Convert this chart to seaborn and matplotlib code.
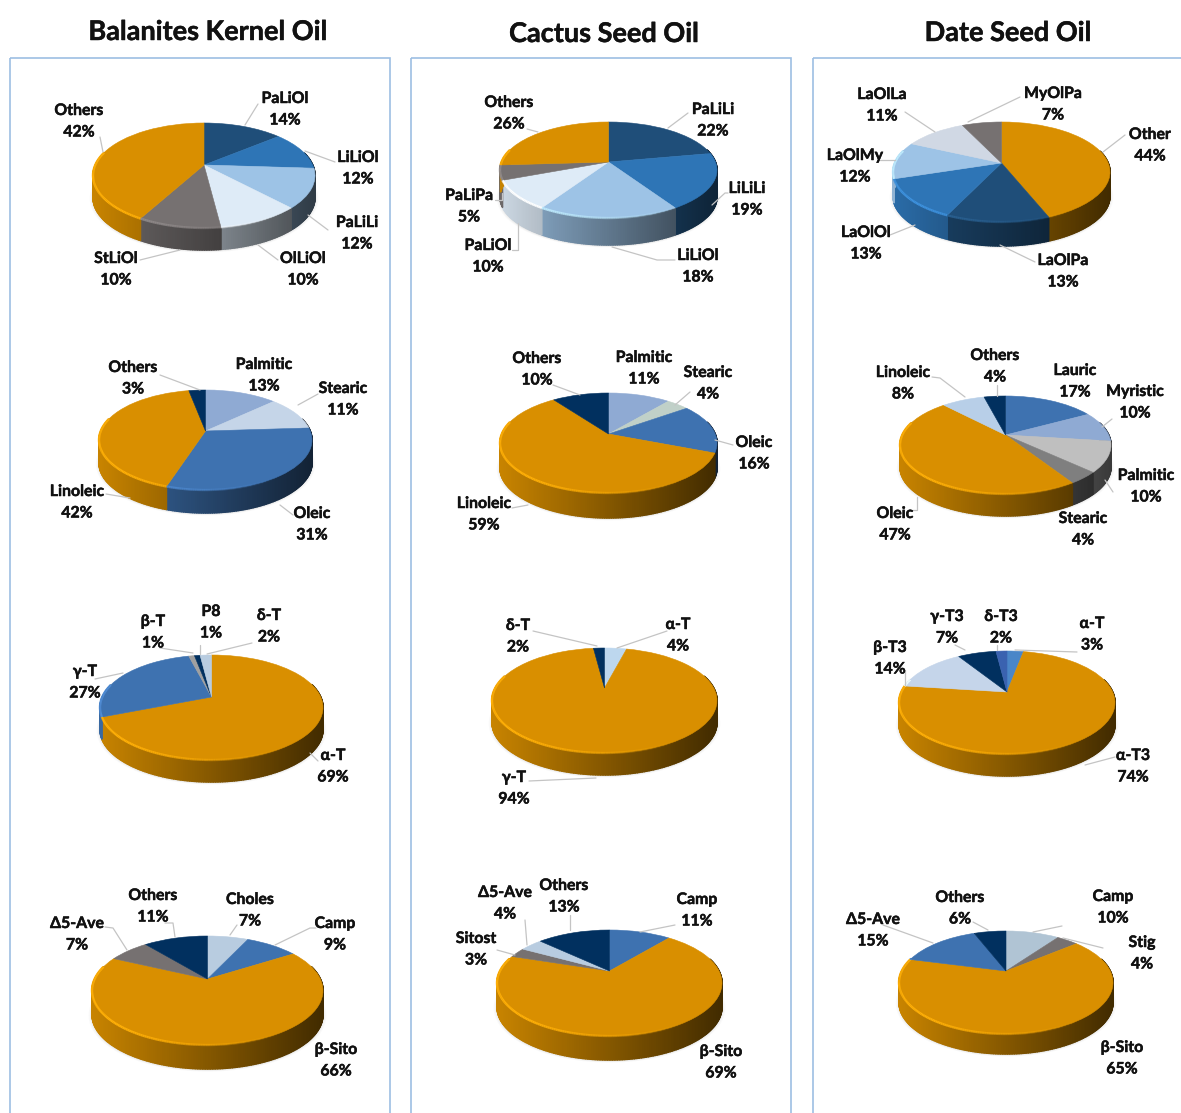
import numpy as np
import matplotlib
matplotlib.use("Agg")
import matplotlib.pyplot as plt
import matplotlib.patheffects as pe
import seaborn as sns
from matplotlib.collections import PolyCollection, LineCollection
from matplotlib.colors import to_rgb
from matplotlib.patches import Rectangle
from matplotlib.transforms import Transform

sns.set_theme(style="white")
plt.rcParams["font.family"] = ["Lato", "Open Sans", "DejaVu Sans"]

W, H = 1181, 1113
TITLES = ["Balanites Kernel Oil", "Cactus Seed Oil", "Date Seed Oil"]

# ---------- data (clockwise from 12 o'clock) ----------
b1_names = ["PaLiOl", "LiLiOl", "PaLiLi", "OlLiOl", "StLiOl", "Others"]
b1_vals = [14, 12, 12, 10, 10, 42]
b2_names = ["Palmitic", "Stearic", "Oleic", "Linoleic", "Others"]
b2_vals = [13, 11, 31, 42, 3]
b3_names = ["α-T", "γ-T", "β-T", "P8", "δ-T"]
b3_vals = [69, 27, 1, 1, 2]
b4_names = ["Choles", "Camp", "β-Sito", "Δ5-Ave", "Others"]
b4_vals = [7, 9, 66, 7, 11]

c1_names = ["PaLiLi", "LiLiLi", "LiLiOl", "PaLiOl", "PaLiPa", "Others"]
c1_vals = [22, 19, 18, 10, 5, 26]
c2_names = ["Palmitic", "Stearic", "Oleic", "Linoleic", "Others"]
c2_vals = [11, 4, 16, 59, 10]
c3_names = ["α-T", "γ-T", "δ-T"]
c3_vals = [4, 94, 2]
c4_names = ["Camp", "β-Sito", "Sitost", "Δ5-Ave", "Others"]
c4_vals = [11, 69, 3, 4, 13]

d1_names = ["Other", "LaOlPa", "LaOlOl", "LaOlMy", "LaOlLa", "MyOlPa"]
d1_vals = [44, 13, 13, 12, 11, 7]
d2_names = ["Lauric", "Myristic", "Palmitic", "Stearic", "Oleic", "Linoleic", "Others"]
d2_vals = [17, 10, 10, 4, 47, 8, 4]
d3_names = ["α-T", "α-T3", "β-T3", "γ-T3", "δ-T3"]
d3_vals = [3, 74, 14, 7, 2]
d4_names = ["Camp", "Stig", "β-Sito", "Δ5-Ave", "Others"]
d4_vals = [10, 4, 65, 15, 6]

# ---------- colours ----------
GOLD, NAVY, GREY = "#d98f00", "#01305f", "#767171"
MID, DEEP, STRONG = "#3e72b0", "#1f4e79", "#2e75b6"
SKY, PALE, MIST = "#9dc3e6", "#deebf7", "#b8cce0"
b1_cols = [DEEP, STRONG, SKY, PALE, GREY, GOLD]
b2_cols = ["#8faad3", "#c5d5e8", MID, GOLD, NAVY]
b3_cols = [GOLD, MID, "#a0a0a0", "#01305f", MIST]
b4_cols = [MIST, MID, GOLD, GREY, NAVY]
c1_cols = [DEEP, STRONG, SKY, PALE, GREY, GOLD]
c2_cols = ["#8faad3", "#c0d0c8", MID, GOLD, NAVY]
c3_cols = ["#bdd7ee", GOLD, NAVY]
c4_cols = [MID, GOLD, GREY, MIST, NAVY]
d1_cols = [GOLD, DEEP, STRONG, SKY, "#d0d8e4", GREY]
d2_cols = [MID, "#8faad3", "#bfbfbf", "#7f7f7f", GOLD, "#b8cfe8", NAVY]
d3_cols = ["#4a86c8", GOLD, "#c5d5ea", NAVY, "#3a62b0"]
d4_cols = ["#b0c4d4", GREY, GOLD, MID, NAVY]

# ---------- layout in pixels ----------
FRAMES = [(10, 390), (411, 791), (813, 1195)]
ROWS = [(58, 325), (325, 590), (590, 860), (860, 1113)]
TITLE_POS = [(208, 32), (604, 34), (1008, 33)]
# left, right, top, apex y, front rim y, bottom of the side wall
b1_geo = (93, 315, 123, 165, 228, 250)
b2_geo = (99, 312, 390, 431, 490, 513)
b3_geo = (100, 323, 655, 697, 760, 782)
b4_geo = (92, 323, 936, 979, 1045, 1069)
c1_geo = (500, 717, 122, 162, 218, 245)
c2_geo = (500, 717, 393, 434, 493, 518)
c3_geo = (492, 717, 648, 688, 753, 775)
c4_geo = (497, 722, 930, 971, 1036, 1060)
d1_geo = (893, 1110, 122, 163, 222, 246)
d2_geo = (900, 1111, 396, 435, 494, 516)
d3_geo = (899, 1115, 651, 692, 754, 776)
d4_geo = (899, 1113, 931, 971, 1034, 1054)

b1_lab = [(285, 108), (358, 167), (357, 232), (303, 268), (116, 268), (79, 120)]
b2_lab = [(264, 374), (343, 398), (312, 523), (77, 501), (133, 377)]
b3_lab = [(333, 765), (85, 681), (153, 631), (211, 621), (269, 625)]
b4_lab = [(250, 909), (335, 933), (336, 1059), (77, 933), (153, 905)]
c1_lab = [(713, 119), (747, 198), (698, 265), (488, 255), (469, 205), (509, 112)]
c2_lab = [(644, 367), (708, 382), (754, 452), (484, 513), (537, 368)]
c3_lab = [(678, 634), (514, 787), (518, 635)]
c4_lab = [(697, 909), (721, 1061), (476, 948), (505, 902), (564, 895)]
d1_lab = [(1150, 144), (1063, 270), (866, 242), (855, 165), (882, 104), (1053, 103)]
d2_lab = [(1075, 380), (1135, 401), (1146, 485), (1083, 528), (895, 523), (903, 382), (995, 365)]
d3_lab = [(1092, 633), (1133, 765), (890, 657), (947, 626), (1001, 626)]
d4_lab = [(1113, 906), (1142, 952), (1122, 1057), (873, 929), (960, 907)]

b1_lead = [[(245, 125), (258, 104)], [(305, 151), (335, 162)], [(308, 215), (328, 230)],
           [(258, 245), (278, 260)], [(180, 250), (140, 260)], [(103, 152), (100, 137)]]
b2_lead = [[], [(298, 405), (318, 394)], [(280, 505), (293, 515)],
           [(130, 498), (106, 494)], [(200, 390), (160, 375)]]
b3_lead = [[(310, 753), (318, 761)], [(123, 673), (95, 679)], [(193, 653), (160, 648)],
           [(200, 654), (200, 645)], [(207, 654), (252, 643)]]
b4_lead = [[(230, 935), (237, 925)], [(275, 945), (310, 928), (316, 928)], [],
           [(127, 950), (113, 928), (105, 927)], [(175, 937), (173, 923), (165, 923)]]
c1_lead = [[(668, 128), (688, 113)], [(712, 205), (725, 193), (728, 193)],
           [(612, 247), (657, 260), (675, 260)], [(518, 223), (518, 250), (512, 250)],
           [(502, 193), (502, 200), (495, 200)], [(538, 132), (527, 129)]]
c2_lead = [[], [(675, 405), (690, 392)], [(715, 440), (733, 445)],
           [(528, 505), (512, 508)], [(580, 395), (553, 385)]]
c3_lead = [[(617, 648), (667, 631)], [(596, 778), (529, 781)], [(597, 646), (533, 631)]]
c4_lead = [[(640, 932), (675, 925)], [], [(515, 955), (497, 950)],
           [(527, 945), (525, 920)], [(570, 930), (570, 915)]]
d1_lead = [[(1103, 152), (1125, 135)], [(1000, 245), (1035, 262)], [(915, 225), (890, 235)],
           [(895, 160), (880, 160)], [(935, 132), (905, 112)], [(968, 122), (1020, 97)]]
d2_lead = [[], [(1102, 427), (1112, 419)], [(1105, 480), (1113, 492)], [],
           [(917, 497), (917, 510), (910, 510)], [(965, 397), (940, 378), (932, 377)],
           [(997, 396), (997, 385)]]
d3_lead = [[(1015, 650), (1077, 652)], [(1085, 765), (1115, 757)], [(905, 685), (905, 670)],
           [(965, 650), (955, 645)], [(997, 650), (997, 645)]]
d4_lead = [[(1033, 932), (1062, 926)], [(1063, 938), (1103, 948)], [],
           [(933, 943), (883, 925)], [(988, 930), (973, 922)]]

PANELS = [
    [(b1_names, b1_vals, b1_cols, b1_geo, b1_lab, b1_lead),
     (b2_names, b2_vals, b2_cols, b2_geo, b2_lab, b2_lead),
     (b3_names, b3_vals, b3_cols, b3_geo, b3_lab, b3_lead),
     (b4_names, b4_vals, b4_cols, b4_geo, b4_lab, b4_lead)],
    [(c1_names, c1_vals, c1_cols, c1_geo, c1_lab, c1_lead),
     (c2_names, c2_vals, c2_cols, c2_geo, c2_lab, c2_lead),
     (c3_names, c3_vals, c3_cols, c3_geo, c3_lab, c3_lead),
     (c4_names, c4_vals, c4_cols, c4_geo, c4_lab, c4_lead)],
    [(d1_names, d1_vals, d1_cols, d1_geo, d1_lab, d1_lead),
     (d2_names, d2_vals, d2_cols, d2_geo, d2_lab, d2_lead),
     (d3_names, d3_vals, d3_cols, d3_geo, d3_lab, d3_lead),
     (d4_names, d4_vals, d4_cols, d4_geo, d4_lab, d4_lead)],
]


class DiscTilt(Transform):
    """Projects the unit pie disc onto the tilted plane, in pixel data coords."""
    input_dims = output_dims = 2

    def __init__(self, geo):
        super().__init__()
        left, right, top, apex, rim, _ = geo
        up, down = apex - top, rim - apex
        self.k = (down - up) / (down + up)
        self.sy = up * (1 + self.k)
        self.sx = (right - left) / 2 * np.sqrt(1 - self.k ** 2)
        self.cx = (left + right) / 2
        self.cy = apex

    def transform_non_affine(self, values):
        values = np.asarray(values, float)
        w = 1 + self.k * values[:, 1]
        return np.column_stack([self.cx + self.sx * values[:, 0] / w,
                                self.cy - self.sy * values[:, 1] / w])


HEAVY = [pe.withStroke(linewidth=0.35, foreground="#111111")]


def draw_pie(ax, names, vals, cols, geo, labs, leads):
    left, right, top, apex, rim, bottom = geo
    depth = bottom - rim
    tilt = DiscTilt(geo)
    fx = ax.get_xlim(), ax.get_ylim()

    # soft ground shadow
    circ = np.linspace(0, 2 * np.pi, 160)
    ring = tilt.transform_non_affine(np.column_stack([np.sin(circ), np.cos(circ)]))
    for grow, a in [(1.03, 0.03), (1.018, 0.04), (1.008, 0.05)]:
        sh = ring.copy()
        sh[:, 0] = tilt.cx + (sh[:, 0] - tilt.cx) * grow
        sh[:, 1] = (top + rim) / 2 + (sh[:, 1] - (top + rim) / 2) * grow + depth + 1
        ax.fill(sh[:, 0], sh[:, 1], color="#555555", alpha=a, lw=0, zorder=1)

    # side wall, shaded from left to right
    polys, faces, segs, glow = [], [], [], []
    cum = np.concatenate([[0], np.cumsum(vals)]) / np.sum(vals) * 2 * np.pi
    for s, col in enumerate(cols):
        base = np.array(to_rgb(col))
        n = max(2, int(np.degrees(cum[s + 1] - cum[s]) / 1.0))
        ph = np.linspace(cum[s], cum[s + 1], n + 1)
        pts = tilt.transform_non_affine(np.column_stack([np.sin(ph), np.cos(ph)]))
        for a, b in zip(pts[:-1], pts[1:]):
            if (a[1] + b[1]) / 2 < apex - 12:
                continue
            t = ((a[0] + b[0]) / 2 - left) / (right - left)
            polys.append([a, b, b + [0, depth], a + [0, depth]])
            faces.append(tuple(base * (0.92 - 0.62 * t)))
            segs.append([a, b])
            bright = np.clip(base * 1.18 + 0.03, 0, 1)
            glow.append((*bright, float(np.clip(1.15 - 1.35 * t, 0, 1))))
    ax.add_collection(PolyCollection(polys, facecolors=faces, edgecolors=faces,
                                     linewidths=1.1, zorder=2))

    # top face
    wedges, _ = ax.pie(vals, colors=cols, startangle=90, counterclock=False, radius=1)
    for w in wedges:
        w.set_transform(tilt + ax.transData)
        w.set_edgecolor(w.get_facecolor())
        w.set_linewidth(0.4)
        w.set_zorder(3)
    ax.add_collection(LineCollection(segs, colors=glow, linewidths=1.7, zorder=4))

    ax.set_aspect("auto")
    ax.set_xlim(fx[0])
    ax.set_ylim(fx[1])
    ax.set_axis_off()

    # leaders and labels
    for name, v, (x, y), lead in zip(names, vals, labs, leads):
        if lead:
            xs, ys = zip(*lead)
            ax.plot(xs, ys, color="#c4c4c4", lw=0.9, zorder=5, clip_on=False)
        ax.text(x, y - 9, name, ha="center", va="center", fontsize=11.4,
                fontweight="bold", color="#111111", zorder=6, clip_on=False,
                path_effects=HEAVY)
        ax.text(x, y + 12.5, f"{v}%", ha="center", va="center", fontsize=11.4,
                fontweight="bold", color="#111111", zorder=6, clip_on=False,
                path_effects=HEAVY)


fig = plt.figure(figsize=(W / 100, H / 100), dpi=100, facecolor="white")

bg = fig.add_axes([0, 0, 1, 1])
bg.set_xlim(0, W)
bg.set_ylim(H, 0)
bg.set_axis_off()
for (x0, x1), title, (tx, ty) in zip(FRAMES, TITLES, TITLE_POS):
    bg.add_patch(Rectangle((x0, 57.5), x1 - x0, H + 20, fill=False,
                           edgecolor="#9dbfe3", lw=1.2))
    bg.text(tx, ty, title, ha="center", va="center", fontsize=19.5,
            fontweight="bold", color="#111111", path_effects=HEAVY)

for (x0, x1), column in zip(FRAMES, PANELS):
    for (y0, y1), spec in zip(ROWS, column):
        ax = fig.add_axes([x0 / W, 1 - y1 / H, (x1 - x0) / W, (y1 - y0) / H])
        ax.patch.set_alpha(0)
        ax.set_xlim(x0, x1)
        ax.set_ylim(y1, y0)
        draw_pie(ax, *spec)

fig.savefig("out.png", dpi=100)
